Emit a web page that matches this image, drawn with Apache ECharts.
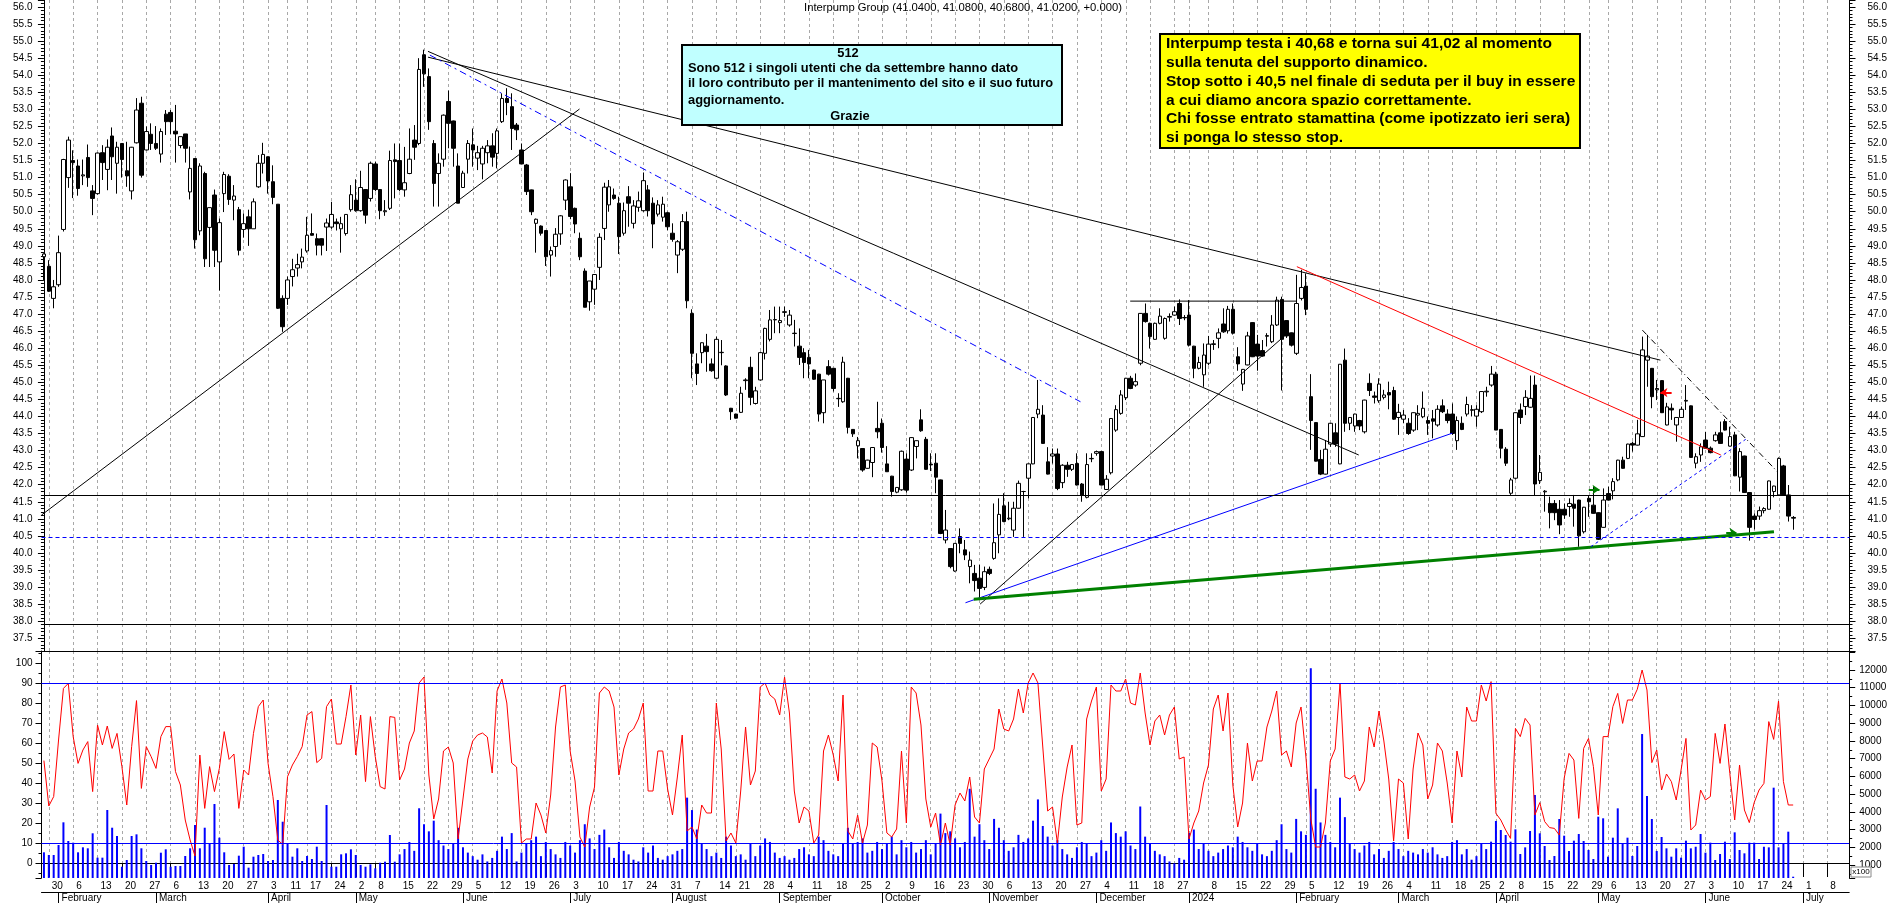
<!DOCTYPE html>
<html><head><meta charset="utf-8">
<script src="https://cdn.jsdelivr.net/npm/echarts@6/dist/echarts.min.js"></script>
<style>html,body{margin:0;padding:0;background:#fff}#c{width:1890px;height:903px}</style>
</head><body><div id="c"></div><script>
// ---------- DATA ----------
const holidays = ['2023-04-07','2023-04-10','2023-05-01','2023-08-15','2023-12-25','2023-12-26','2024-01-01','2024-03-29','2024-04-01','2024-05-01'];
const firstDay = '2023-01-27', lastAxisDay = '2024-07-12';
const monthNames = ['January','February','March','April','May','June','July','August','September','October','November','December'];
// [open, high, low, close]
const candles = [
[48.68,48.78,48.0,48.76],[48.4,48.58,47.65,47.67],[47.46,48.0,47.17,47.8],[47.86,49.3,47.8,48.8],[49.48,51.55,49.42,51.53],[51.0,52.2,50.7,52.1],[51.5,51.8,50.4,51.44],[51.34,51.53,50.47,50.68],[51.05,51.53,50.78,51.08],[51.59,51.97,50.73,51.0],
[50.61,50.78,49.9,50.39],[50.53,51.73,50.5,51.72],[51.73,51.95,50.93,51.44],[51.24,52.12,50.63,51.89],[52.22,52.47,50.93,51.61],[51.42,52.05,50.53,51.89],[52.0,52.0,51.0,51.53],[51.2,52.05,50.73,51.05],[50.61,51.9,50.36,51.89],[52.02,53.33,52.0,52.98],
[53.18,53.37,51.0,51.07],[51.81,52.5,51.8,52.35],[52.27,52.59,51.81,52.0],[52.0,52.51,51.81,51.86],[51.69,52.44,51.44,52.35],[52.86,52.98,52.25,52.64],[52.91,52.98,52.28,52.64],[52.36,53.13,51.44,52.28],[51.94,52.2,51.86,52.2],[52.28,52.28,51.44,51.86],
[50.58,51.91,50.36,51.27],[51.56,51.56,48.92,49.18],[49.44,51.42,49.31,51.34],[51.12,51.17,48.38,48.62],[49.54,50.12,48.38,50.12],[50.49,50.65,48.38,48.87],[48.53,49.8,47.69,49.68],[50.53,51.17,49.99,51.09],[51.04,51.1,50.2,50.36],[50.34,50.78,49.75,50.46],
[50.06,50.14,48.72,48.87],[49.48,49.95,49.24,49.65],[49.85,50.06,49.0,49.5],[49.5,50.39,49.5,50.29],[50.73,51.66,50.7,51.42],[51.42,52.02,51.12,51.68],[51.61,51.62,50.53,50.9],[50.88,51.36,50.22,50.42],[50.22,50.22,47.15,47.17],[47.46,47.55,46.48,46.63],
[47.46,48.1,47.27,48.0],[48.1,48.62,47.81,48.3],[48.35,48.77,48.1,48.45],[48.53,48.92,48.34,48.67],[48.85,49.85,48.8,49.31],[49.36,49.95,49.3,49.31],[49.21,49.36,48.72,49.02],[49.21,49.22,48.72,49.02],[49.55,49.8,48.85,49.67],[49.55,50.29,49.5,49.92],
[49.7,49.8,49.45,49.65],[49.5,49.85,48.8,49.65],[49.36,49.92,49.3,49.92],[50.06,50.78,50.0,50.5],[50.34,50.95,50.0,50.03],[50.03,51.2,50.0,50.71],[50.65,50.66,49.65,49.9],[50.39,51.47,50.3,51.42],[51.4,51.47,50.6,50.65],[50.65,50.66,49.78,50.03],
[50.0,50.34,49.88,50.03],[50.1,51.79,50.05,51.5],[51.52,52.0,50.39,51.47],[51.5,52.0,50.6,50.65],[50.64,51.9,50.44,50.85],[51.12,52.44,51.1,51.54],[52.1,52.54,51.52,51.89],[52.0,54.5,51.95,54.17],[54.6,54.75,53.66,54.04],[53.96,54.2,52.4,52.64],
[52.0,52.1,50.15,50.83],[51.12,51.71,50.15,51.42],[51.54,52.85,51.32,52.83],[53.23,53.55,51.86,52.59],[52.66,52.67,51.32,51.86],[51.34,51.71,50.25,50.25],[50.71,51.2,50.7,51.13],[51.54,52.1,51.12,52.0],[51.96,52.44,51.32,51.81],[51.57,51.93,51.22,51.73],
[51.4,51.93,50.95,51.86],[51.73,52.1,51.42,51.93],[51.93,52.3,51.32,51.6],[51.71,52.44,51.27,52.37],[52.64,53.47,52.6,53.32],[53.32,53.62,52.83,53.2],[53.08,53.47,51.81,52.44],[52.54,52.6,52.1,52.4],[51.81,52.0,51.4,51.4],[51.37,51.4,50.49,50.59],
[50.64,50.65,49.9,50.0],[49.66,49.8,48.8,49.78],[49.58,49.6,49.3,49.37],[49.45,49.46,48.41,48.68],[48.73,48.98,48.1,48.86],[48.98,49.52,48.68,49.34],[49.35,49.9,49.03,49.88],[50.34,50.95,50.05,50.93],[50.73,51.13,49.78,49.86],[50.1,50.12,49.37,49.64],
[49.22,49.39,48.58,48.68],[48.26,48.34,47.2,47.2],[47.36,47.97,47.1,47.97],[47.73,48.17,47.27,48.16],[48.37,49.37,48.0,49.25],[49.51,50.85,49.17,50.72],[50.2,50.93,50.0,50.73],[50.49,50.68,50.35,50.39],[50.25,50.44,48.76,49.27],[49.37,50.27,49.3,50.03],
[50.44,50.75,49.56,50.25],[49.66,50.34,49.51,50.17],[50.13,50.59,50.0,50.32],[50.03,51.15,50.0,50.91],[50.64,50.78,49.86,50.03],[50.25,50.42,48.93,49.64],[49.93,50.34,49.86,50.2],[49.84,50.44,49.71,50.22],[49.97,50.0,49.46,49.56],[49.37,49.66,49.12,49.19],
[48.73,49.17,48.2,49.12],[48.9,49.93,48.85,49.71],[49.71,50.0,47.17,47.39],[47.02,47.14,45.12,45.85],[45.54,45.85,44.92,45.26],[45.87,46.17,45.56,46.16],[46.06,46.42,45.31,45.9],[45.54,45.7,45.31,45.34],[45.12,46.34,45.1,46.26],[45.87,46.24,45.5,45.88],
[45.48,45.5,44.6,44.63],[44.24,44.25,43.9,44.14],[44.07,44.08,43.94,43.95],[44.12,44.87,44.1,44.68],[45.05,45.12,44.78,45.07],[45.44,45.75,44.33,44.56],[44.38,44.87,44.35,44.75],[45.07,45.9,45.05,45.87],[45.85,46.6,45.67,46.58],[46.26,47.12,46.2,46.83],
[46.83,47.22,46.44,46.84],[46.75,47.22,46.44,46.81],[47.05,47.22,46.92,47.07],[46.68,47.12,46.63,46.97],[46.44,46.83,46.05,46.43],[46.06,46.58,45.51,45.73],[45.87,46.0,45.12,45.58],[45.73,45.95,45.12,45.54],[45.36,45.37,45.07,45.09],[45.24,45.25,43.85,44.07],
[44.11,45.07,43.8,45.07],[45.46,45.65,45.2,45.24],[45.41,45.42,44.73,44.82],[44.52,44.68,44.28,44.53],[44.43,45.75,44.4,45.59],[45.12,45.13,43.5,43.68],[43.62,43.63,43.4,43.49],[43.14,43.4,42.77,43.29],[43.06,43.07,42.38,42.43],[42.48,42.73,42.47,42.72],
[42.65,43.1,42.22,43.09],[43.65,44.43,43.36,43.55],[43.8,43.94,42.94,43.09],[42.61,43.13,42.38,42.38],[42.25,42.26,41.65,41.8],[41.78,41.93,41.75,41.92],[41.85,43.0,41.82,42.98],[42.75,42.92,41.77,41.84],[42.43,43.39,42.4,43.38],[43.12,43.3,42.77,43.29],
[43.9,44.21,43.55,43.58],[43.33,43.4,42.44,42.45],[42.6,42.92,42.4,42.58],[42.63,42.92,41.75,42.22],[42.14,42.15,40.55,40.57],[40.38,41.26,40.28,40.67],[40.13,40.14,39.55,39.6],[39.47,40.28,39.45,40.28],[40.48,40.72,39.99,40.28],[40.09,40.38,39.79,39.94],
[39.6,40.04,39.11,39.79],[39.4,39.65,38.87,39.19],[39.26,39.65,38.67,38.96],[38.99,39.6,38.91,39.45],[39.52,39.6,39.35,39.4],[39.84,41.45,39.8,40.3],[40.53,41.6,39.99,41.13],[41.38,41.75,40.9,40.92],[41.0,41.5,40.96,41.02],[40.67,41.5,40.47,41.31],
[41.31,42.12,41.3,42.04],[41.8,41.82,40.47,41.8],[42.19,42.62,41.6,42.61],[42.61,43.98,42.6,43.97],[44.07,45.07,43.95,44.21],[44.04,44.33,43.2,43.21],[42.67,43.1,42.3,42.31],[42.84,43.06,42.62,42.9],[42.9,43.06,41.84,41.89],[42.06,42.6,41.9,42.57],
[42.57,42.67,42.23,42.45],[42.45,42.6,42.4,42.59],[42.62,42.92,41.98,41.99],[42.02,42.05,41.5,41.7],[41.63,42.92,41.6,42.59],[42.76,42.92,42.66,42.77],[42.92,43.0,42.85,42.97],[42.97,42.98,41.98,41.99],[41.86,42.28,41.85,42.16],[42.35,43.95,42.3,43.94],
[43.6,44.33,43.55,44.2],[44.09,44.77,44.05,44.63],[44.55,45.13,44.48,45.12],[45.12,45.19,44.8,44.82],[44.92,45.26,44.87,45.02],[45.56,47.03,45.5,47.02],[47.02,47.31,46.75,46.78],[46.73,46.75,45.99,46.34],[46.26,46.75,46.25,46.73],[46.73,47.17,46.7,46.94],
[46.29,46.9,46.25,46.87],[46.91,47.02,46.78,46.93],[46.97,47.22,46.95,47.07],[47.31,47.43,46.68,46.87],[46.9,46.97,46.82,46.89],[46.97,47.41,46.05,46.09],[46.06,46.07,45.12,45.41],[45.41,45.75,45.38,45.58],[45.22,46.14,44.87,45.8],[45.56,46.36,45.5,46.12],
[46.11,46.24,45.95,46.13],[46.29,46.58,46.0,46.45],[46.71,47.17,46.45,46.48],[46.51,47.24,46.43,47.14],[47.14,47.31,46.4,46.44],[45.75,46.03,45.34,45.54],[44.95,45.39,44.75,45.38],[45.51,46.48,45.5,46.36],[46.75,46.76,45.74,45.75],[46.12,46.39,45.34,45.77],
[45.93,46.24,45.75,45.77],[46.35,46.44,46.05,46.37],[46.19,46.97,46.15,46.68],[46.68,47.51,46.65,47.41],[47.43,47.51,44.76,46.26],[46.81,46.82,46.3,46.36],[46.45,46.46,46.05,46.09],[45.85,48.15,45.8,47.31],[47.46,48.3,47.4,47.78],[47.82,48.19,46.97,47.14],
[44.58,45.24,43.02,43.88],[43.82,43.83,42.68,42.69],[42.74,43.02,42.28,42.31],[42.31,43.31,42.3,43.04],[43.19,43.81,43.11,43.8],[43.52,43.8,43.11,43.19],[42.61,45.53,42.6,45.53],[45.65,45.99,43.55,43.8],[43.8,43.98,43.6,43.97],[43.72,44.08,43.55,44.07],
[43.88,43.9,43.6,43.72],[43.55,44.49,43.5,44.48],[44.97,45.26,44.6,44.76],[44.6,44.73,44.38,44.56],[44.46,45.12,44.4,44.95],[44.56,44.78,44.5,44.63],[44.7,45.02,44.21,44.63],[44.76,44.87,43.9,43.92],[43.97,44.37,43.46,44.12],[43.92,44.19,43.8,44.04],
[43.8,43.95,43.46,43.5],[43.6,44.12,43.55,44.11],[44.04,44.33,43.6,44.09],[43.99,44.73,43.95,44.24],[43.88,44.0,43.46,43.8],[43.93,44.19,43.36,43.86],[43.75,44.33,43.7,44.21],[44.31,44.5,44.1,44.14],[44.07,44.21,43.8,43.88],[44.07,44.38,43.46,43.5],
[43.29,44.0,43.02,43.88],[43.8,44.0,43.6,43.62],[44.07,44.58,44.0,44.35],[44.18,44.33,44.0,44.2],[44.01,44.33,43.7,44.21],[44.14,44.74,44.1,44.73],[44.72,44.87,44.58,44.74],[44.92,45.48,44.87,45.24],[45.24,45.31,43.6,43.6],[43.62,43.63,42.77,43.07],
[43.04,43.1,42.55,42.63],[41.75,42.2,41.7,42.14],[42.19,44.12,42.15,44.11],[44.19,44.38,43.78,43.97],[44.29,44.77,44.04,44.56],[44.27,45.2,44.25,44.53],[44.92,45.2,41.67,42.02],[42.12,42.87,42.02,42.36],[41.79,41.84,41.21,41.81],[41.45,41.65,40.72,41.18],
[41.45,41.55,40.96,41.18],[41.28,41.55,40.55,40.82],[41.28,41.45,41.0,41.11],[41.36,41.6,41.06,41.45],[41.43,41.7,40.77,41.31],[41.55,41.56,40.18,40.5],[40.62,41.35,40.57,41.34],[41.6,41.67,41.06,41.5],[41.4,41.94,41.15,41.16],[41.18,41.19,40.38,40.4],
[40.75,41.89,40.74,41.55],[41.74,41.94,41.54,41.55],[41.82,42.19,41.57,42.09],[42.14,42.73,42.1,42.72],[42.72,42.82,42.47,42.48],[42.77,43.2,42.75,43.19],[43.21,43.26,42.97,43.16],[43.16,43.9,43.15,43.49],[43.41,46.34,43.4,45.95],[45.65,46.39,44.87,45.77],
[45.41,45.42,44.24,44.58],[44.78,45.07,44.48,44.82],[45.05,45.06,44.1,44.11],[43.75,44.4,43.74,44.28],[44.24,44.38,43.9,44.19],[43.75,43.98,43.26,43.97],[43.97,44.29,43.96,44.21],[44.45,44.92,44.19,44.47],[44.31,44.32,42.79,42.8],[42.63,42.92,42.48,42.82],
[42.87,43.21,42.67,43.11],[43.31,43.55,43.06,43.07],[43.07,43.12,42.92,42.94],[43.29,43.55,43.26,43.46],[43.52,43.85,43.2,43.21],[43.85,43.92,43.59,43.6],[43.13,43.7,43.12,43.41],[43.46,43.55,42.25,42.26],[42.22,43.07,41.8,42.97],[42.84,42.85,41.76,41.77],
[41.77,41.78,40.36,40.75],[41.08,41.16,40.69,40.98],[41.08,41.36,40.97,41.24],[41.24,41.34,41.16,41.3],[41.28,42.12,41.27,42.11],[41.8,41.97,41.63,41.96],[41.7,42.8,41.69,42.77],[42.55,42.58,41.69,41.7],[41.7,41.99,40.92,41.08],[41.04,41.08,40.68,41.02]
];
// oscillator (left scale 0-100), one value per candle
const oscillator = [
51.2,28.5,33.2,61.5,87.3,89.8,63.2,49.8,56.5,60.7,35.7,69,59,68.5,57.3,64.8,48.2,29,58.2,81.2,
37.3,58.2,53.2,47.3,63.2,68.2,68.2,45.7,39,21.5,11.5,3.5,54,27.3,48.2,35.7,47.3,65.7,51.8,54.5,
27.3,46.5,44,64.8,78.2,81.5,49.8,33.2,11.5,9.3,43.2,49,53.2,58.2,74,75.7,50.2,52.3,78.2,82,
59.5,59.5,73.2,89,54,74,40.7,73.2,53.2,38.2,37,73.2,72.8,41.5,
47,60,66,90,93,44,22,32,56,58,
50,12,32,52,61,64,65,63,45,86,
92,80,50,48,10,12,12,30,24,15,
34,68,88,89,56,41,13,8,28,38,
85,88,86,78,44,57,65,67,72,80,
36,36,56,56,37,24,43,64,16,18,
12,29,25,25,80,57,11,15,10,36,
68,39,46,88,90,84,82,74,93,75,
36,20,28,26,10,14,56,64,54,41,
84,16,12,24,10,19,60,58,41,15,
13,17,56,20,88,85,69,32,18,25,
9,20,9,29,35,31,43,23,20,47,
52,57,77,67,66,72,87,75,90,95,
90,58,26,28,10,33,48,59,19,20,
72,81,88,36,42,89,86,86,92,80,
79,95,75,59,71,74,64,74,78,52,
53,12,20,26,40,49,77,84,66,85,
39,18,30,60,41,51,51,68,76,86,
54,56,48,70,78,53,22,8,8,20,
51,57,90,43,42,44,36,41,68,58,
76,61,42,11,42,40,12,47,65,59,
32,39,60,56,40,20,56,43,78,71,
71,89,81,
90.7,24.8,21.5,16.5,12.3,67.3,63.2,72.3,69,24,30.2,20.7,17.7,17.3,14,42.3,54.8,51.5,22.3,57.3,
62.3,48.2,24,63.2,63.2,78.2,84.8,69.8,81.5,81.5,86.8,96.5,86.5,50.2,56.5,36.5,44.5,40.7,31.5,46.5,
62.3,16.5,19,36.5,31.5,33.2,64.8,49.8,69.5,44.8,21.5,49,26.5,20.2,30.2,36.5,39.8,70.7,61.8,81,40.7,29,29
];
// volume (right scale, x100)
const volume = [
1716,1564,1564,2128,3408,2354,2260,1716,1998,1942,2788,1414,1414,4102,3104,2636,904,1282,2636,2730,
1942,1226,1000,1130,1694,1885,904,944,944,1508,1942,3256,1942,3104,2222,4440,2540,1716,1000,1056,
1526,2033,850,1470,1564,1620,1226,1282,4666,3442,2222,1470,1942,1226,1508,1338,2033,1226,4384,904,
904,1602,1658,1885,1564,1000,904,1038,810,1130,1188,2692,1188,1602,
1900,2300,1800,4200,3300,2900,3500,2400,2100,1900,
2200,3100,2000,1700,1500,1300,1600,1200,1400,1800,
2600,1900,2800,1200,1700,2200,2400,2600,1500,2300,
1900,1600,1400,2300,2100,1700,2400,3300,2500,1900,
2700,3000,2000,1400,2300,1800,1600,1300,1200,2000,
1700,2100,1400,1300,1500,1600,1800,1900,4800,4100,
3000,2200,1900,1500,1700,1400,2600,2100,1500,1600,
1300,2200,1500,2100,2500,2300,1700,1400,1500,1300,
1400,1900,2000,1600,1500,2600,2400,1800,1600,1500,
2200,3100,2200,2300,2500,1700,1800,2300,1900,2200,
2600,1600,2400,2000,2300,1700,1900,2400,1600,2200,
3900,2800,2900,2500,2000,2300,5300,2600,3300,2400,
1900,3600,3100,2400,1800,2000,2700,2300,2500,3500,
4700,3200,2600,2100,2400,1900,1600,1400,2000,2300,
2200,1500,1700,2400,1800,3400,2800,2600,2900,2100,
1900,4300,2600,2200,1800,1600,1500,1200,1100,1400,
1300,2800,3000,1900,2200,1800,1500,1700,1900,2100,
2000,2600,2300,2000,1800,2200,1600,1500,1800,2400,
3300,1900,1700,3600,2900,2700,12100,5300,3400,2700,
2300,2000,4800,3700,2200,1900,1700,2100,2300,1600,
1900,1400,1800,2300,1900,1500,1800,1700,1600,1900,
1700,2000,1600,1400,1500,2300,2400,1600,1900,1300,
1500,2200,1900,
2316,3482,2974,2692,2316,3012,1620,1996,2918,4948,2786,2072,1282,1508,3594,2654,1790,2372,2748,2354,
1846,1338,3726,3634,1470,2542,4196,2222,2542,1508,2072,8388,4892,3594,1790,2580,1940,1470,1940,1414,
2372,1940,2030,2748,1696,2260,1282,1620,2316,1338,2843,1846,1658,2260,2260,1338,2030,1996,5362,1996,2222,2880,340
];

// trendlines: [candle index, price]
const lineA = [[-0.5,41.11],[109.9,53.01]];
const lineB = [[78.8,54.7],[269.8,42.87]];
const lineC = [[78.8,54.53],[331.7,45.65]];
const lineD = [[79.2,54.59],[212.7,44.43]];
const lineE = [[222.9,47.38],[257.0,47.38]];
const lineF = [[192.1,38.5],[254.8,46.39]];
const lineG = [[189.1,38.54],[289.0,43.51]];
const lineH = [[190.8,38.64],[355.0,40.62]];
const lineI = [[257.1,48.39],[344.1,42.87]];
const lineK = [[328.0,46.53],[355.7,42.38]];
const lineL = [[317.4,40.18],[349.2,43.33]];
const priceLevels = [41.7, 40.45, 37.91];
const oscLevels = [90, 10];
const arrowsGreen = [[[317.0,41.86],[319.2,41.86]], [[345.2,40.6],[347.3,40.6]]];
const arrowsRed = [[[334.0,44.7],[331.7,44.7]]];

const titleText = 'Interpump Group (41.0400, 41.0800, 40.6800, 41.0200, +0.000)';
const cyanLines = ['512','Sono 512 i singoli utenti che da settembre hanno dato','il loro contributo per il mantenimento del sito e il suo futuro','aggiornamento.','Grazie'];
const yellowLines = ['Interpump testa i 40,68 e torna sui 41,02 al momento','sulla tenuta del supporto dinamico.','Stop sotto i 40,5 nel finale di seduta per il buy in essere','a cui diamo ancora spazio correttamente.','Chi fosse entrato stamattina (come ipotizzato ieri sera)','si ponga lo stesso stop.'];

// ---------- CALENDAR ----------
const hol = new Set(holidays);
const dates = [];
for (let t = Date.parse(firstDay+'T00:00:00Z'); t <= Date.parse(lastAxisDay+'T00:00:00Z'); t += 86400000) {
  const d = new Date(t), wd = d.getUTCDay();
  if (wd === 0 || wd === 6) continue;
  const s = d.toISOString().slice(0,10);
  if (hol.has(s)) continue;
  dates.push(s);
}
const weekKey = s => { const d = new Date(s+'T00:00:00Z'); return d.getTime() - ((d.getUTCDay()+6)%7)*86400000; };
const weekStart = dates.map((s,i) => i > 0 && weekKey(s) !== weekKey(dates[i-1]));
const monthStart = dates.map((s,i) => i > 0 && s.slice(0,7) !== dates[i-1].slice(0,7));
// day labels: skip a week label that would crowd the previous one
const dayLabel = []; let lastLab = -99;
weekStart.forEach((w,i) => { const show = w && (i - lastLab >= 4); dayLabel.push(show); if (show) lastLab = i; });
const N = dates.length;

// ---------- CHART ----------
const chart = echarts.init(document.getElementById('c'));
const gridL = 41.5, gridW = 1808;
const FONT = 'Liberation Sans';
const vGrid = {show:true, interval:(i)=>weekStart[i], alignWithLabel:true, lineStyle:{color:'#a8a8a8', width:1, type:[3,3]}};
const priceAxis = (pos) => ({
  type:'value', gridIndex:0, position:pos, min:37.126, max:56.205, minInterval:0.5, maxInterval:0.5,
  axisLine:{show:true, lineStyle:{color:'#000'}}, axisTick:{show:true, length:6, lineStyle:{color:'#000'}},
  minorTick:{show:true, splitNumber:5, length:3, lineStyle:{color:'#000'}}, splitLine:{show:false},
  axisLabel:{margin: pos==='left'?9:18, fontFamily:FONT, fontSize:10, color:'#000',
    formatter:(v)=> Math.abs(v*2-Math.round(v*2))<1e-6 ? v.toFixed(1) : ''}
});
const mk = (data, color, width, type) => ({type:'line', xAxisIndex:3, yAxisIndex:0, data, symbol:'none', silent:true, z:4,
  lineStyle:{color, width, type}});
const arrowSeries = (list, color) => ({type:'line', xAxisIndex:3, yAxisIndex:0, data:[], silent:true, z:5,
  markLine:{silent:true, symbol:['none','arrow'], symbolSize:7, label:{show:false}, animation:false,
    lineStyle:{color, width:2, type:'solid'},
    data: list.map(a => [{coord:a[0]},{coord:a[1]}])}});

const ctx = document.createElement('canvas').getContext('2d');
const fitScale = (text, font, target) => { ctx.font = font; return target / ctx.measureText(text).width; };
const txt = (text, x, y, font, sx, align) => ({type:'text', x, y, scaleX:sx, scaleY:1, z:101,
  style:{text, font, fill:'#000', align:align||'left', verticalAlign:'middle'}});

const titleFont = '10px "Liberation Sans"';
const cyanFont = 'bold 13px "Liberation Sans"';
const yelFont = 'bold 15px "Liberation Sans"';
const sTitle = fitScale(titleText, titleFont, 318);
const sCyan = fitScale(cyanLines[2], cyanFont, 365);
const sYel = fitScale(yellowLines[0], yelFont, 386);
const cyanY = [53, 68, 83, 100, 116];
const yelY = [44.3, 63, 81.7, 100.5, 119.3, 138];

const graphic = [
  txt(titleText, 963, 8, titleFont, sTitle, 'center'),
  {type:'rect', z:100, shape:{x:682, y:45, width:380, height:80}, style:{fill:'#c0ffff', stroke:'#000', lineWidth:2}},
  txt(cyanLines[0], 848, cyanY[0], cyanFont, sCyan, 'center'),
  txt(cyanLines[1], 688, cyanY[1], cyanFont, sCyan),
  txt(cyanLines[2], 688, cyanY[2], cyanFont, sCyan),
  txt(cyanLines[3], 688, cyanY[3], cyanFont, sCyan),
  txt(cyanLines[4], 850, cyanY[4], cyanFont, sCyan, 'center'),
  {type:'rect', z:100, shape:{x:1160, y:34, width:420, height:114}, style:{fill:'#ffff00', stroke:'#000', lineWidth:2}},
  ...yellowLines.map((t,i)=> txt(t, 1166, yelY[i], yelFont, sYel)),
  {type:'rect', z:100, shape:{x:1851, y:867, width:20, height:10}, style:{fill:'#fff', stroke:'#888', lineWidth:1}},
  txt('x100', 1861, 872, '8px "Liberation Sans"', 1, 'center')
];

const option = {
  animation:false, backgroundColor:'#fff',
  grid:[{left:gridL, top:0, width:gridW, height:651}, {left:gridL, top:651, width:gridW, height:227}],
  xAxis:[
    {type:'category', gridIndex:0, data:dates, boundaryGap:true, axisLine:{show:true, lineStyle:{color:'#000'}},
      axisTick:{show:false}, axisLabel:{show:false}, splitLine:vGrid},
    {type:'category', gridIndex:1, data:dates, boundaryGap:true, position:'bottom',
      axisLine:{show:true, lineStyle:{color:'#000'}},
      axisTick:{show:true, interval:(i)=>weekStart[i], alignWithLabel:true, length:14, lineStyle:{color:'#000'}},
      axisLabel:{interval:(i)=>dayLabel[i], formatter:(v)=>String(+v.slice(8,10)), align:'left', margin:3,
        padding:[0,0,0,3], fontFamily:FONT, fontSize:10, color:'#000'},
      splitLine:vGrid},
    {type:'category', gridIndex:1, data:dates, boundaryGap:true, position:'bottom', offset:14,
      axisLine:{show:true, lineStyle:{color:'#000'}},
      axisTick:{show:true, interval:(i)=>monthStart[i], alignWithLabel:true, length:12, lineStyle:{color:'#000'}},
      axisLabel:{interval:(i)=>monthStart[i], formatter:(v)=>{const m=+v.slice(5,7)-1; return (m===0)? v.slice(0,4) : monthNames[m];},
        align:'left', margin:1, padding:[0,0,0,3], fontFamily:FONT, fontSize:10, color:'#000'},
      splitLine:{show:false}},
    {type:'value', gridIndex:0, min:-0.5, max:N-0.5, show:false}
  ],
  yAxis:[
    priceAxis('left'), priceAxis('right'),
    {type:'value', gridIndex:1, position:'left', min:-7.5, max:106, minInterval:10, maxInterval:10,
      axisLine:{show:true, lineStyle:{color:'#000'}}, axisTick:{show:true, length:6, lineStyle:{color:'#000'}},
      minorTick:{show:true, splitNumber:2, length:3, lineStyle:{color:'#000'}}, splitLine:{show:false},
      axisLabel:{margin:9, fontFamily:FONT, fontSize:10, color:'#000', formatter:(v)=> (v>=0 && v<=100 && Math.abs(v%10)<1e-6) ? String(v) : ''}},
    {type:'value', gridIndex:1, position:'right', min:267, max:13072, minInterval:1000, maxInterval:1000,
      axisLine:{show:true, lineStyle:{color:'#000'}}, axisTick:{show:true, length:6, lineStyle:{color:'#000'}},
      minorTick:{show:true, splitNumber:2, length:3, lineStyle:{color:'#000'}}, splitLine:{show:false},
      axisLabel:{margin:10, fontFamily:FONT, fontSize:10, color:'#000', formatter:(v)=> (v>=1000 && v<=12000 && v%1000===0) ? String(v) : ''}}
  ],
  series:[
    {type:'candlestick', xAxisIndex:0, yAxisIndex:0, barWidth:4, z:3,
      data: candles.map(c => [c[0], c[3], c[2], c[1]]),
      itemStyle:{color:'#fff', color0:'#000', borderColor:'#000', borderColor0:'#000', borderColorDoji:'#000', borderWidth:1},
      markLine:{silent:true, symbol:'none', label:{show:false}, animation:false, data:[
        {yAxis:priceLevels[0], lineStyle:{color:'#000', width:1, type:'solid'}},
        {yAxis:priceLevels[1], lineStyle:{color:'#0000ff', width:1, type:[4,3]}},
        {yAxis:priceLevels[2], lineStyle:{color:'#000', width:1, type:'solid'}}]}},
    mk(lineA,'#000',1,'solid'), mk(lineB,'#000',1,'solid'), mk(lineC,'#000',1,'solid'),
    mk(lineD,'#0000ff',1,[7,4,2,4]), mk(lineE,'#000',1,'solid'), mk(lineF,'#000',1,'solid'),
    mk(lineG,'#0000ff',1,'solid'), mk(lineH,'#008000',3,'solid'), mk(lineI,'#ff0000',1,'solid'),
    mk(lineK,'#000',1,[6,3,1,3]), mk(lineL,'#0000ff',1,[3,3]),
    arrowSeries(arrowsGreen,'#008000'), arrowSeries(arrowsRed,'#ff0000'),
    {type:'bar', xAxisIndex:1, yAxisIndex:3, data:volume, barWidth:2, itemStyle:{color:'#0000ff'}, z:2},
    {type:'line', xAxisIndex:1, yAxisIndex:2, data:oscillator, symbol:'none', z:3,
      lineStyle:{color:'#ff0000', width:1},
      markLine:{silent:true, symbol:'none', label:{show:false}, animation:false,
        lineStyle:{color:'#0000ff', width:1, type:'solid'}, data: oscLevels.map(v=>({yAxis:v}))}}
  ],
  graphic
};
chart.setOption(option);
</script></body></html>
